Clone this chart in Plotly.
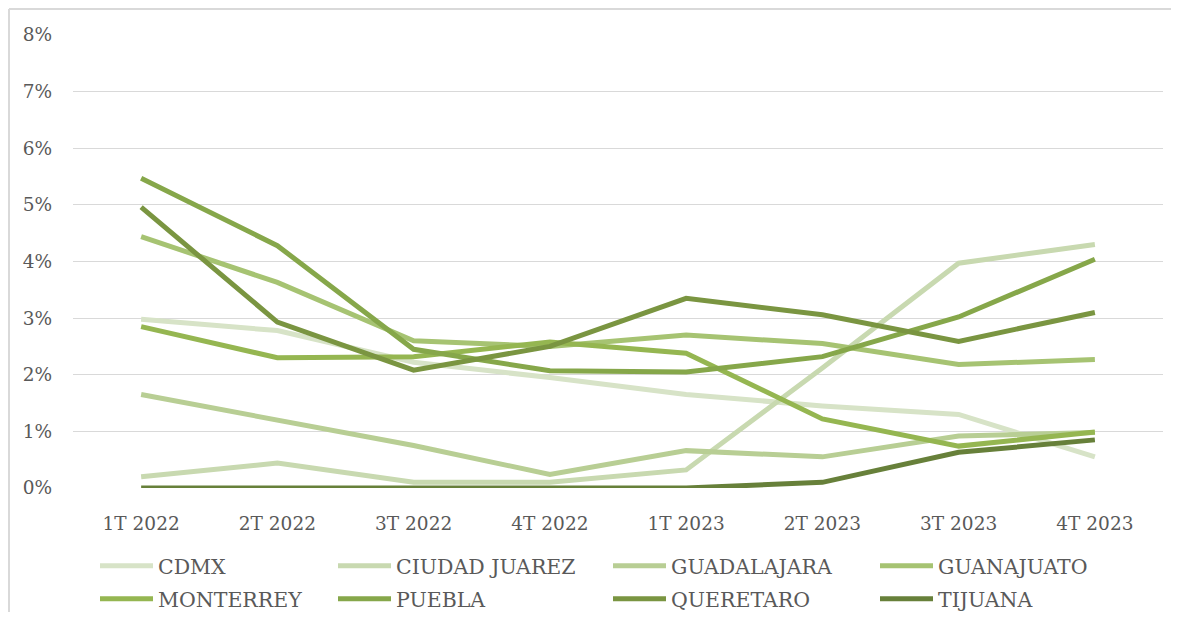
import plotly.graph_objects as go

categories = ["1T 2022", "2T 2022", "3T 2022", "4T 2022", "1T 2023", "2T 2023", "3T 2023", "4T 2023"]

cdmx = [2.98, 2.78, 2.22, 1.95, 1.65, 1.45, 1.30, 0.55]
ciudad_juarez = [0.20, 0.44, 0.10, 0.10, 0.32, 2.12, 3.97, 4.30]
guadalajara = [1.65, 1.20, 0.75, 0.24, 0.66, 0.55, 0.92, 0.98]
guanajuato = [4.44, 3.63, 2.60, 2.50, 2.70, 2.55, 2.18, 2.27]
monterrey = [2.85, 2.30, 2.32, 2.58, 2.38, 1.22, 0.74, 0.99]
puebla = [5.47, 4.28, 2.45, 2.07, 2.05, 2.32, 3.02, 4.04]
queretaro = [4.96, 2.93, 2.08, 2.50, 3.35, 3.06, 2.59, 3.10]
tijuana = [0.0, 0.0, 0.0, 0.0, 0.0, 0.10, 0.63, 0.85]

series_names = ["CDMX", "CIUDAD JUAREZ", "GUADALAJARA", "GUANAJUATO",
                "MONTERREY", "PUEBLA", "QUERETARO", "TIJUANA"]
series_values = [cdmx, ciudad_juarez, guadalajara, guanajuato,
                 monterrey, puebla, queretaro, tijuana]
colors = ["#d7e3c7", "#c8d9b0", "#b8ce94", "#a6c372",
          "#95b651", "#86a74a", "#7a9541", "#67803a"]

y_tick_vals = [0, 1, 2, 3, 4, 5, 6, 7, 8]
y_tick_labels = ["0%", "1%", "2%", "3%", "4%", "5%", "6%", "7%", "8%"]

FONT = "DejaVu Serif"
TXT = "#595959"

# page has an 8px body margin; figure fits inside the 1179x620 window
OFF = 8
W, H = 1179 - 2 * OFF, 620 - 2 * OFF
# plot area in window pixels: x 73..1163, y 35..488
L = 73 - OFF
T = 35 - OFF
R = W - (1163 - OFF)
B = H - (488 - OFF)
pw, ph = W - L - R, H - T - B


def px_to_paper_x(px):
    return (px - OFF - L) / pw


def px_to_paper_y(py):
    return (H - B - (py - OFF)) / ph


def px_to_cont_x(px):
    return (px - OFF) / W


def px_to_cont_y(py):
    return 1 - (py - OFF) / H


# legend item positions in window px (line start, row center)
leg_pos = [(100, 566), (338, 566), (613, 566), (880, 566),
           (100, 599), (338, 599), (613, 599), (880, 599)]

fig = go.Figure()
legends = {}
for i, (name, vals, col) in enumerate(zip(series_names, series_values, colors)):
    lname = "legend" if i == 0 else f"legend{i+1}"
    fig.add_trace(go.Scatter(
        x=categories, y=vals, name=name, mode="lines",
        line=dict(color=col, width=5),
        legend=lname,
    ))
    lx, ly = leg_pos[i]
    legends[lname] = dict(
        xref="container", yref="container",
        x=px_to_cont_x(lx - 5), y=px_to_cont_y(ly),
        xanchor="left", yanchor="middle",
        orientation="h", bgcolor="rgba(0,0,0,0)",
        font=dict(family=FONT, size=20.5, color=TXT),
        itemwidth=53, tracegroupgap=0,
        itemclick=False, itemdoubleclick=False,
    )

border = dict(color="#d9d9d9", width=2)

fig.update_layout(
    width=W, height=H,
    margin=dict(l=L, r=R, t=T, b=B, autoexpand=False),
    paper_bgcolor="white", plot_bgcolor="white",
    font=dict(family=FONT, size=18, color=TXT),
    showlegend=True,
    xaxis=dict(
        type="category", categoryorder="array", categoryarray=categories,
        range=[-0.5, 7.5], showgrid=False, zeroline=False, showline=False,
        ticks="", ticklabelstandoff=22,
        tickfont=dict(family=FONT, size=18.5, color=TXT),
    ),
    yaxis=dict(
        range=[0, 8], tickmode="array", tickvals=y_tick_vals, ticktext=y_tick_labels,
        showgrid=True, gridcolor="#d9d9d9", gridwidth=1,
        zeroline=False, showline=False, ticks="",
        ticklabelstandoff=20,
        tickfont=dict(family=FONT, size=18.5, color=TXT),
    ),
    shapes=[
        dict(type="line", xref="paper", yref="paper",
             x0=px_to_paper_x(9), x1=px_to_paper_x(1179),
             y0=px_to_paper_y(9), y1=px_to_paper_y(9),
             line=border, layer="below"),
        dict(type="line", xref="paper", yref="paper",
             x0=px_to_paper_x(9), x1=px_to_paper_x(9),
             y0=px_to_paper_y(9), y1=px_to_paper_y(620),
             line=border, layer="below"),
    ],
    **legends,
)

fig.write_html("out.html")
